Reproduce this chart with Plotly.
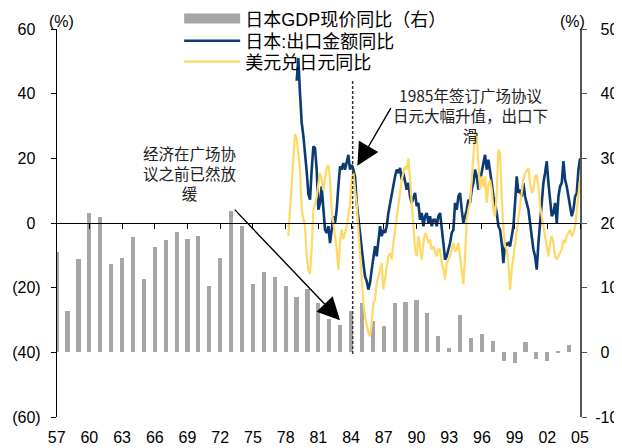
import plotly.graph_objects as go

# ---------------- data ----------------
GDP_YEARS = list(range(1957, 2005))
GDP_YOY = [15.5, 6.4, 14.5, 21.5, 21.0, 13.6, 14.6, 17.8, 11.4, 16.3,
           17.4, 18.6, 17.6, 18.0, 10.2, 14.6, 21.9, 19.5, 10.6, 12.5,
           11.6, 10.3, 8.5, 9.8, 7.7, 5.2, 4.2, 6.4, 7.6, 4.8,
           4.1, 7.6, 7.8, 8.1, 6.1, 2.5, 0.7, 5.8, 2.2, 2.9,
           1.7, -1.3, -1.6, 1.6, -1.0, -1.3, 0.2, 1.1]

SAMPLE_STEP = 0.1529          # years between readings (~1.8 months)
EXPORT_START = 1979.015
EXPORT_YOY = [44, 51, 40, 31, 27, 22, 16, 9, 7.2, 16.5,
              23.7, 23.2, 16.5, 4.1, 6.2, 11.3, 4.1, -2.1, -3.1, -1,
              -6.2, -1, 2.1, 0, 4.1, 11.3, 17.5, 16.5, 18.5, 16.5,
              18.5, 21.1, 16.5, 18, 16.5, 14.4, 6.2, 1, -4.1, -8.2,
              -12.4, -16.5, -18, -20.6, -18.5, -14.4, -10.3, -7.2, -10.3, -5.2,
              -1, -4.1, -2.1, -3.1, -1, 3.1, 6.2, 8.2, 12.4, 14.4,
              16.5, 15.5, 17, 13.4, 15.5, 12.4, 10.3, 12.4, 8.2, 6.2,
              8.2, 9.3, 5.2, 6.2, 1, 3.1, -1, 2.1, 3.1, 0,
              2.1, -1, 1,
              1, -1, 2.1, 3.1, -1, -6.2, -11.3, -10.3, -8.2, -6.2,
              -3.1, -2.1, 6.2, 4.1, 8.2, 9.3, 4.1, 0, 2.1, 4.1,
              7.2, 6.2, 10.3, 12.4, 16.5, 14.4, 10.3, 13.4, 16.5, 18.5,
              21.1, 16.5, 19.6, 16.5, 12.4, 8.2, 6.2, 3.1, -1, -2.1,
              -6.2, -12.4, -6.2, -6.7, -6.2, -7.2, -4.1, -1, 6.2, 14.4,
              9.3, 10.3, 8.2, 12.4, 8.2, 6.2, 4.1, 0, -4.1, -8.2,
              -10.3, -14.4, -6.2, 1, 8.2, 12.4, 15.5, 19.1, 12.4, 6.2,
              2.1, 3.1, 6.2, 0, 8.2, 11.3, 12.4, 19.1, 13.4, 11.3,
              8.2, 4.1, 2.1, 4.1, 8.2, 9.3, 16.5, 20]

FX_START = 1978.25
USDJPY_YOY = [-4, 3, 11, 20, 27.5, 26, 21.6, 16.5, 4, 1,
              -1, -10, -14.4, -15.7, -8, 4, 6, 8, 12, 15.5,
              13.4, 10, 14, 17, 18, 13.4, 4, -1, -4, -8,
              -14.4, -6, -2, -5, -3, -1, 2, 6, 13.4, 15.5,
              10, 6, -2, -10, -16.5, -24.7, -28.9, -31.9, -34, -35,
              -31, -24.7, -23.7, -18.5, -16.5, -14.4, -12.4, -20.6, -17.5, -14.4,
              -10.3, -9.3, -11.3, -6.2, -2.1, 2.1, 6.2, 10.3, 13.4, 15.5,
              17.5, 16.5, 20, 13.4, 6.2, -2.1, -8.2, -10.3, -4.1, -7.2,
              -11.3, -6.2, -3.1, -4.1, -6.2, -5.2, -8.2, -7.2,
              -9, -10.3, -8, -8.2, -12.4, -14.4, -17.5, -12.4, -11.3, -10.3,
              -8.2, -6.2, -8.8, -8.2, -6.2, -10.3, -14.4, -19, -10.3, 1,
              4.1, 6.2, 13.4, 21.6, 28.3, 26.8, 16.5, 10.3, 14.4, 11.3,
              14.4, 6.2, 11.3, 13.4, 10.3, 4.1, 2.1, 9.3, 22.7, 21.6,
              8.2, -2.1, -7.2, -8.2, -12.4, -20.6, -14.4, -10.3, -6.2, -2.1,
              2.1, 6.2, 10.3, 13.4, 15.5, 16.5, 17, 12.4, 9.3, 10.3,
              14.4, 14.9, 11.3, 5.2, 2.1, -1, -4.1, -8.2, -10.3, -6.2,
              -4.1, -6.2, -10.3, -11.3, -10.3, -9.3, -8.2, -5.2, -6.2, -4.1,
              -3.1, -2.1, -4.1, -3.1, -1, 4.1, 8.2, 13.4]

X_TICK_YEARS = list(range(1957, 2006, 3))
X_TICK_LABELS = ["57", "60", "63", "66", "69", "72", "75", "78", "81",
                 "84", "87", "90", "93", "96", "99", "02", "05"]
LEFT_TICKS = [60, 40, 20, 0, -20, -40, -60]
LEFT_LABELS = ["60", "40", "20", "0", "(20)", "(40)", "(60)"]
RIGHT_TICKS = [50, 40, 30, 20, 10, 0, -10]
RIGHT_LABELS = ["50", "40", "30", "20", "10", "0", "-10"]

NAME_GDP = "日本GDP现价同比（右）"
NAME_EXP = "日本:出口金额同比"
NAME_FX = "美元兑日元同比"
NOTE_PLAZA = "1985年签订广场协议<br>日元大幅升值，出口下<br>滑"
NOTE_SLOW = "经济在广场协<br>议之前已然放<br>缓"
UNIT = "(%)"
PLAZA_LINE_X = 1984.15

# ---------------- styling ----------------
GRAY = "#A6A6A6"
NAVY = "#0C3B73"
GOLD = "#FFD966"
LATIN = "Liberation Sans, Arial, Noto Sans CJK SC"
CJK = "Noto Sans CJK SC, Liberation Sans"
X_RANGE = [1956.94, 2005.0]

export_x = [EXPORT_START + i * SAMPLE_STEP for i in range(len(EXPORT_YOY))]
fx_x = [FX_START + i * SAMPLE_STEP for i in range(len(USDJPY_YOY))]

hide = "<span style='color:rgba(0,0,0,0)'>{}</span>"
left_text = [t if t.startswith("(") else t + hide.format(")") for t in LEFT_LABELS]
right_text = [t if t.startswith("-") else hide.format("-") + t for t in RIGHT_LABELS]

fig = go.Figure()

# bars on the right-hand scale (main subplot, drawn first)
fig.add_trace(go.Bar(x=GDP_YEARS, y=GDP_YOY, width=0.38, marker_color=GRAY,
                     marker_line_width=0, showlegend=False, name=NAME_GDP,
                     xaxis="x", yaxis="y"))
# legend entry for the bars (wide gray block)
fig.add_trace(go.Scatter(x=[None], y=[None], mode="lines", name=NAME_GDP,
                         line=dict(color=GRAY, width=12), xaxis="x2", yaxis="y2",
                         legend="legend"))
fig.add_trace(go.Scatter(x=export_x, y=EXPORT_YOY, mode="lines", name=NAME_EXP,
                         line=dict(color=NAVY, width=2.6), xaxis="x2", yaxis="y2",
                         legend="legend2"))
fig.add_trace(go.Scatter(x=fx_x, y=USDJPY_YOY, mode="lines", name=NAME_FX,
                         line=dict(color=GOLD, width=2.2), xaxis="x2", yaxis="y2",
                         legend="legend3"))

legend_style = dict(x=0.235, xanchor="left", yanchor="middle",
                    bgcolor="rgba(0,0,0,0)",
                    font=dict(family=LATIN, size=18, color="black"),
                    itemwidth=56)

# the page body adds an 8px offset, so margins are set 8px smaller on top/left
fig.update_layout(
    width=622, height=448,
    margin=dict(l=48, r=50, t=21, b=39, autoexpand=False),
    paper_bgcolor="white", plot_bgcolor="white",
    bargap=0,
    xaxis=dict(range=X_RANGE, tickvals=X_TICK_YEARS, ticktext=X_TICK_LABELS,
               showline=False, showgrid=False, zeroline=False, ticks="",
               ticklabelstandoff=9, tickfont=dict(family=LATIN, size=16, color="black")),
    xaxis2=dict(range=X_RANGE, overlaying="x", anchor="free", position=0.5,
                tickvals=X_TICK_YEARS, showticklabels=False, showgrid=False,
                zeroline=False, showline=True, linecolor="black", linewidth=1.3,
                ticks="outside", ticklen=5, tickcolor="black", tickwidth=1.2),
    yaxis=dict(range=[-10, 50], side="right", anchor="x",
               tickvals=RIGHT_TICKS, ticktext=right_text,
               showline=True, linecolor="#555555", linewidth=2,
               ticks="outside", ticklen=5, tickcolor="#555555", tickwidth=1.2,
               showgrid=False, zeroline=False, ticklabelstandoff=5,
               tickfont=dict(family=LATIN, size=16, color="black")),
    yaxis2=dict(range=[-60, 60], side="left", overlaying="y", anchor="free", position=0,
                tickvals=LEFT_TICKS, ticktext=left_text,
                showline=True, linecolor="black", linewidth=1.3,
                ticks="outside", ticklen=5, tickcolor="black", tickwidth=1.2,
                showgrid=False, zeroline=False, ticklabelstandoff=7,
                tickfont=dict(family=LATIN, size=16, color="black")),
    legend=dict(y=1.026, **legend_style),
    legend2=dict(y=0.969, **legend_style),
    legend3=dict(y=0.915, **legend_style),
    showlegend=True,
)

# dashed marker for the Plaza Accord
fig.add_shape(type="line", xref="x2", yref="y2", x0=PLAZA_LINE_X, x1=PLAZA_LINE_X,
              y0=-40.5, y1=44, line=dict(color="#333333", width=1.5, dash="3px,2px"))

annos = [
    dict(text=UNIT, xref="paper", yref="paper", x=0.005, y=1.0, yshift=8, xshift=3,
         xanchor="center", yanchor="middle",
         showarrow=False, font=dict(family=LATIN, size=16, color="black")),
    dict(text=UNIT, xref="paper", yref="paper", x=0.985, y=1.0, yshift=8,
         xanchor="center", yanchor="middle",
         showarrow=False, font=dict(family=LATIN, size=16, color="black")),
    dict(text=NOTE_PLAZA, xref="x2", yref="y2", x=1995.0, y=43.5, yanchor="top",
         xanchor="center", showarrow=False, align="center",
         font=dict(family=CJK, size=15.5, color="#222222")),
    dict(text=NOTE_SLOW, xref="x2", yref="y2", x=1969.2, y=25.6, yanchor="top",
         xanchor="center", showarrow=False, align="center",
         font=dict(family=CJK, size=15.5, color="#222222")),
    dict(text="", xref="x2", yref="y2", axref="x2", ayref="y2",
         x=1984.58, y=17.7, ax=1987.73, ay=36.0, showarrow=True,
         arrowhead=2, arrowsize=3.2, arrowwidth=1.4, arrowcolor="black"),
    dict(text="", xref="x2", yref="y2", axref="x2", ayref="y2",
         x=1982.99, y=-30.1, ax=1973.2, ay=4.6, showarrow=True,
         arrowhead=2, arrowsize=3.2, arrowwidth=1.4, arrowcolor="black"),
]
for a in annos:
    fig.add_annotation(**a)

fig.write_html("out.html")
